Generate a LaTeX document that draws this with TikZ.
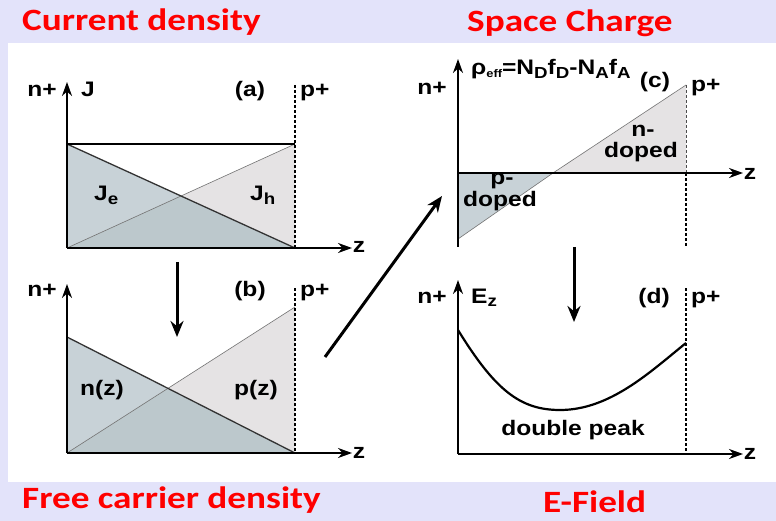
\documentclass[tikz,border=0pt]{standalone}
\usepackage{fontspec}
\setmainfont{Liberation Sans}
\newfontfamily\lblfont{Liberation Sans}[FakeStretch=1.17]
\newfontfamily\titlefont{Carlito}[FakeStretch=1.2]
\usetikzlibrary{arrows.meta}
\definecolor{bglav}{HTML}{E3E3FA}
\definecolor{darkfill}{HTML}{C8D2D7}
\definecolor{lightfill}{HTML}{E5E3E4}
\definecolor{overlapfill}{HTML}{BCC8CC}
\definecolor{titlered}{HTML}{FF0000}
\newcommand\mysub[1]{\raisebox{-0.35ex}{\fontsize{16}{16}\selectfont #1}}
\newcommand\mysmallsub[1]{\raisebox{-0.2ex}{\fontsize{11}{11}\selectfont #1}}
\tikzset{
  axis/.style={line width=2.2pt, -{Stealth[length=14pt,width=10pt]}},
  bigarrow/.style={line width=3pt, -{Stealth[length=16pt,width=13pt]}},
  lbl/.style={font=\lblfont\bfseries\fontsize{21}{21}\selectfont, inner sep=0pt, anchor=base},
  lblw/.style={lbl, anchor=base west},
  maintitle/.style={font=\titlefont\bfseries\fontsize{31}{31}\selectfont, text=titlered, inner sep=0pt, anchor=base west},
  pdash/.style={line width=1.4pt, dash pattern=on 3pt off 2pt},
  topedge/.style={line width=2.2pt},
  darkdiag/.style={line width=1.3pt, draw={black!80}},
  lightdiag/.style={line width=0.6pt, draw={black!55}},
}
\begin{document}
\begin{tikzpicture}[x=1pt,y=-1pt]
\useasboundingbox (0,0) rectangle (776,521);
\fill[bglav] (0,0) rectangle (776,521);
\fill[white] (8,43) rectangle (776,482);

% titles
\node[maintitle] (t1) at (22,31) {Current density};
\node[maintitle] (t2) at (467,32) {Space Charge};
\node[maintitle] (t3) at (22,508) {Free carrier density};
\node[maintitle] (t4) at (543,512) {E-Field};

% ---------- panel (a)
\coordinate (aO) at (67,248);
\coordinate (aTL) at (67,144);
\coordinate (aTR) at (295,144);
\coordinate (aBR) at (295,248);
\coordinate (aX) at (intersection of aTL--aBR and aO--aTR);
\fill[darkfill] (aTL) -- (aO) -- (aBR) -- cycle;
\fill[lightfill] (aO) -- (aTR) -- (aBR) -- cycle;
\fill[overlapfill] (aO) -- (aX) -- (aBR) -- cycle;
\draw[lightdiag] (aO) -- (aTR);
\draw[darkdiag] (aTL) -- (aBR);
\draw[topedge] (aTL) -- (aTR);
\draw[pdash] (295,85) -- (aBR);
\draw[axis] (aO) -- (67,82);
\draw[axis] (aO) -- (352,248);
\node[lbl] (an) at (42,97) {n+};
\node[lbl] (aJ) at (88,97) {J};
\node[lbl] (alab) at (250,97) {(a)};
\node[lblw] (ap) at (300,97) {p+};
\node[lbl] (az) at (359,253) {z};
\node[lblw] (aJe) at (94,201) {J\mysub{e}};
\node[lblw] (aJh) at (250,201) {J\mysub{h}};

% ---------- panel (b)
\coordinate (bO) at (67,453);
\coordinate (bnT) at (67,337);
\coordinate (bpT) at (295,307);
\coordinate (bBR) at (295,453);
\coordinate (bX) at (intersection of bnT--bBR and bO--bpT);
\fill[darkfill] (bnT) -- (bO) -- (bBR) -- cycle;
\fill[lightfill] (bO) -- (bpT) -- (bBR) -- cycle;
\fill[overlapfill] (bO) -- (bX) -- (bBR) -- cycle;
\draw[lightdiag] (bO) -- (bpT);
\draw[darkdiag] (bnT) -- (bBR);
\draw[pdash] (295,288) -- (bBR);
\draw[axis] (bO) -- (67,284);
\draw[axis] (bO) -- (352,453);
\node[lbl] (bn) at (42,296) {n+};
\node[lbl] (blab) at (250,296) {(b)};
\node[lblw] (bp) at (300,296) {p+};
\node[lbl] (bz) at (359,458) {z};
\node[lbl] (bnz) at (102,395) {n(z)};
\node[lbl] (bpz) at (256,395) {p(z)};

% ---------- panel (c)
\coordinate (cO) at (458,173);
\coordinate (cB) at (458,239);
\coordinate (cX) at (553,173);
\coordinate (cT) at (686,85);
\coordinate (cR) at (686,173);
\fill[darkfill] (cO) -- (cX) -- (cB) -- cycle;
\fill[lightfill] (cX) -- (cT) -- (cR) -- cycle;
\draw[lightdiag] (cB) -- (cX) -- (cT);
\draw[pdash, draw=black!70, line width=0.8pt] (cT) -- (cR);
\draw[pdash] (cR) -- (686,247);
\draw[line width=2.2pt] (cO) -- (458,247);
\draw[axis] (cO) -- (458,59);
\draw[axis] (cO) -- (743,173);
\node[lbl] (cn) at (432,95) {n+};
\node[lblw] (cform) at (471,75) {ρ\mysmallsub{eff}=N\mysub{D}f\mysub{D}-N\mysub{A}f\mysub{A}};
\node[lbl] (clab) at (655,88) {(c)};
\node[lblw] (cp) at (691,92) {p+};
\node[lbl] (cz) at (750,180) {z};
\node[lbl] (cn1) at (643,137) {n-};
\node[lbl] (cn2) at (641,158) {doped};
\node[lbl] (cp1) at (502,185) {p-};
\node[lbl] (cp2) at (500,207) {doped};

% ---------- panel (d)
\coordinate (dO) at (458,454);
\coordinate (dS) at (458,330);
\coordinate (dM) at (560,410);
\coordinate (dE) at (686,343);
\draw[pdash] (686,288) -- (686,454);
\draw[line width=2.2pt] (dS) .. controls (495,390) and (520,410) .. (dM)
   .. controls (610,410) and (650,372) .. (dE);
\draw[axis] (dO) -- (458,280);
\draw[axis] (dO) -- (743,454);
\node[lbl] (dn) at (432,303) {n+};
\node[lblw] (dEz) at (471,303) {E\mysub{z}};
\node[lbl] (dlab) at (654,303) {(d)};
\node[lblw] (dp) at (691,303) {p+};
\node[lbl] (dz) at (750,459) {z};
\node[lbl] (ddp) at (573,435) {double peak};

% ---------- flow arrows
\coordinate (ab1) at (177,262);
\coordinate (ab2) at (177,337);
\coordinate (cd1) at (574,247);
\coordinate (cd2) at (574,322);
\coordinate (bc1) at (325,357);
\coordinate (bc2) at (442,196);
\draw[bigarrow] (ab1) -- (ab2);
\draw[bigarrow] (cd1) -- (cd2);
\draw[bigarrow] (bc1) -- (bc2);
\end{tikzpicture}
\end{document}
